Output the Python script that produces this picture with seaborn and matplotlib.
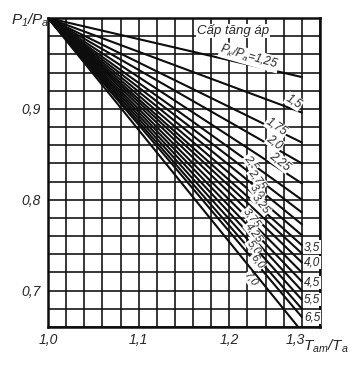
import numpy as np
import pandas as pd
import matplotlib
matplotlib.use("Agg")
import matplotlib.pyplot as plt
import seaborn as sns

# ---- data ----
ratios = [1.25, 1.5, 1.75, 2.0, 2.25, 2.5, 2.75, 3.0, 3.25, 3.5,
          3.75, 4.0, 4.25, 4.5, 5.0, 5.5, 6.0, 6.5, 7.0]
ratio_labels = ["1,25", "1,5", "1,75", "2,0", "2,25", "2,5", "2,75", "3,0", "3,25", "3,5",
                "3,75", "4,0", "4,25", "4,5", "5,0", "5,5", "6,0", "6,5", "7,0"]
x_start = 1.0
y_start = 1.0
x_end = 1.28
y_end = [0.935, 0.896, 0.863, 0.840, 0.818, 0.800, 0.786, 0.773, 0.761, 0.750,
         0.741, 0.731, 0.720, 0.710, 0.700, 0.690, 0.680, 0.671, 0.655]
x_ticks = [1.0, 1.1, 1.2]
x_tick_labels = ["1,0", "1,1", "1,2"]
y_ticks = [0.7, 0.8, 0.9]
y_tick_labels = ["0,7", "0,8", "0,9"]

rows = []
for r, ye in zip(ratios, y_end):
    rows.append({"ratio": r, "x": x_start, "y": y_start})
    rows.append({"ratio": r, "x": x_end, "y": ye})
df = pd.DataFrame(rows)

# ---- style ----
sns.set_theme(style="white")
plt.rcParams["font.family"] = ["Liberation Sans", "DejaVu Sans"]
plt.rcParams["mathtext.fontset"] = "custom"
plt.rcParams["mathtext.it"] = "Liberation Sans:italic"
plt.rcParams["mathtext.rm"] = "Liberation Sans:italic"

W, H = 356, 370
fig = plt.figure(figsize=(W / 100, H / 100), dpi=100)
ax = fig.add_axes([48 / W, 1 - 327 / H, (320 - 48) / W, (327 - 18) / H])

sns.lineplot(data=df, x="x", y="y", units="ratio", estimator=None,
             color="#0d0d0d", lw=1.5, ax=ax, legend=False, zorder=3)

ax.set_xlim(1.0, 1.3)
ax.set_ylim(0.66, 1.0)
ax.set_xticks(x_ticks)
ax.set_xticklabels(x_tick_labels, fontstyle="italic", fontsize=10)
ax.set_yticks(y_ticks)
ax.set_yticklabels(y_tick_labels, fontstyle="italic", fontsize=10)
ax.set_xticks(np.arange(1.0, 1.3001, 0.02), minor=True)
ax.set_yticks(np.arange(0.66, 1.0001, 0.02), minor=True)
ax.tick_params(which="both", length=0)
ax.tick_params(axis="x", pad=4)
ax.tick_params(axis="y", pad=5)
ax.grid(which="both", color="#151515", lw=1.2)
ax.set_xlabel("")
ax.set_ylabel("")
for s in ax.spines.values():
    s.set_color("#0d0d0d")
    s.set_linewidth(1.8)

box = dict(facecolor="white", edgecolor="none", pad=0.5)

# upper labels (above their lines)
upper = {
    "1,25": (1.222, 0.957, -16),
    "1,5": (1.271, 0.908, -32),
    "1,75": (1.252, 0.880, -34),
    "2,0": (1.250, 0.863, -36),
    "2,25": (1.256, 0.842, -38),
}
for lab, (lx, ly, rot) in upper.items():
    txt = r"$P_k/P_a$=" + lab if lab == "1,25" else lab
    ax.text(lx, ly, txt, fontsize=8.5, fontstyle="italic", rotation=rot,
            ha="center", va="center", bbox=box, zorder=4, rotation_mode="anchor")

# middle labels
middle = {
    "2,5": (1.224, 0.841),
    "2,75": (1.231, 0.823),
    "3,0": (1.231, 0.809),
    "3,25": (1.235, 0.795),
    "3,75": (1.225, 0.780),
    "4,25": (1.227, 0.764),
    "5,0": (1.227, 0.748),
    "6,0": (1.231, 0.732),
    "7,0": (1.224, 0.712),
}
for lab, (lx, ly) in middle.items():
    ax.text(lx, ly, lab, fontsize=8, fontstyle="italic", rotation=-52,
            ha="center", va="center", bbox=box, zorder=4, rotation_mode="anchor")

# right-edge labels
right = {"3,5": 0.748, "4,0": 0.731, "4,5": 0.709, "5,5": 0.690, "6,5": 0.671}
for lab, ly in right.items():
    ax.text(1.2822, ly, lab, fontsize=8.5, fontstyle="italic",
            ha="left", va="center", bbox=box, zorder=4)

ax.text(1.204, 0.986, "Cấp tăng áp", fontsize=9.5, fontstyle="italic",
        ha="center", va="center", bbox=box, zorder=4)

# axis titles
fig.text(30 / W, 1 - 20 / H, r"$P_1/P_a$", fontsize=11, ha="center", va="center")
fig.text(295 / W, 1 - 340 / H, "1,3", fontsize=10, fontstyle="italic",
         ha="center", va="center")
fig.text(303 / W, 1 - 346 / H, r"$T_{am}/T_a$", fontsize=11, ha="left", va="center")

fig.savefig("out.png", dpi=100, facecolor="white")
